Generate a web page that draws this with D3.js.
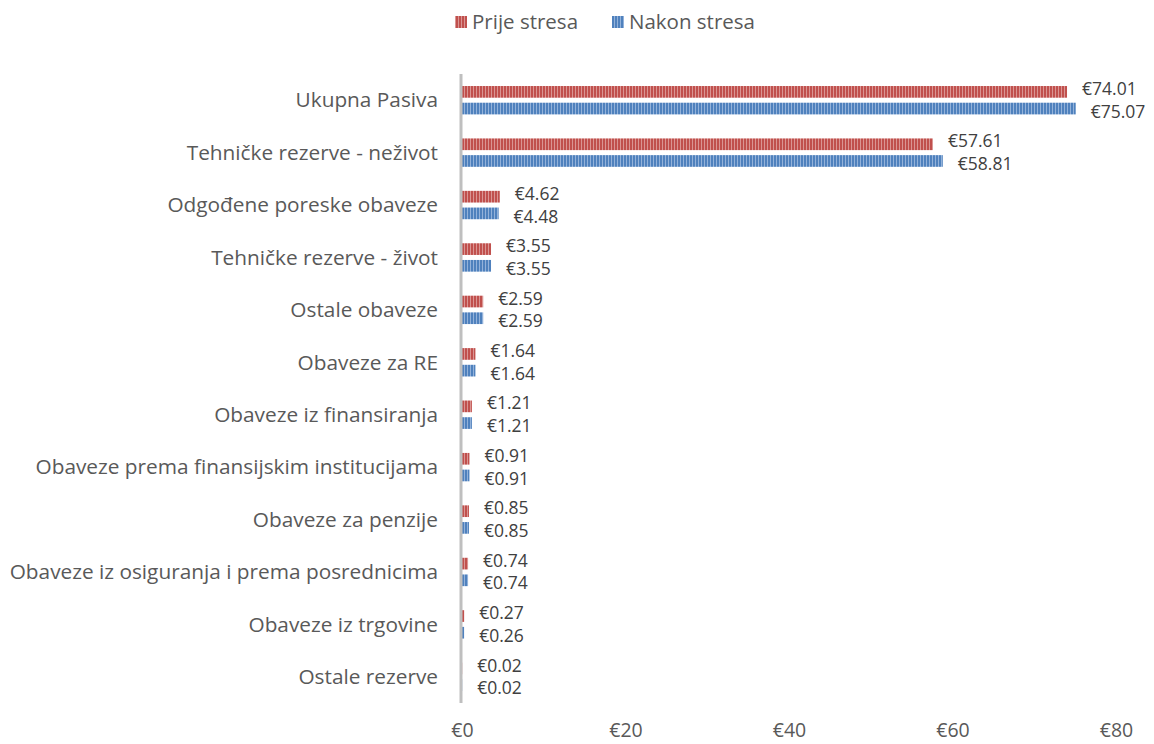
<!DOCTYPE html>
<html><head><meta charset="utf-8">
<script src="https://cdn.jsdelivr.net/npm/d3@7"></script>
<style>body{margin:0;background:#fff;}svg{display:block;font-family:"Open Sans",sans-serif;}</style>
</head><body><svg id="c" width="1154" height="744"></svg>
<script>
const categories = ["Ukupna Pasiva","Tehničke rezerve - neživot","Odgođene poreske obaveze","Tehničke rezerve - život","Ostale obaveze","Obaveze za RE","Obaveze iz finansiranja","Obaveze prema finansijskim institucijama","Obaveze za penzije","Obaveze iz osiguranja i prema posrednicima","Obaveze iz trgovine","Ostale rezerve"];
const prije = [74.01,57.61,4.62,3.55,2.59,1.64,1.21,0.91,0.85,0.74,0.27,0.02];
const nakon = [75.07,58.81,4.48,3.55,2.59,1.64,1.21,0.91,0.85,0.74,0.26,0.02];
const seriesNames = ["Prije stresa","Nakon stresa"];
const ticks = [0,20,40,60,80];
const colors = ["#C0504D","#4F81BD"];
const light = ["#DA9593","#93B2DA"];

const svg = d3.select("#c");
const x = d3.scaleLinear().domain([0,80]).range([462,1116]);
const y = d3.scaleBand().domain(categories).range([74,703]);
const inner = d3.scaleBand().domain([0,1]).range([0,y.bandwidth()]).paddingInner(0.3).paddingOuter(0.72);

const defs = svg.append("defs");
colors.forEach((c,i)=>{
  const p = defs.append("pattern").attr("id","pat"+i).attr("patternUnits","userSpaceOnUse").attr("width",3).attr("height",10);
  p.append("rect").attr("width",3).attr("height",10).attr("fill",light[i]);
  p.append("rect").attr("width",2).attr("height",10).attr("fill",c);
});

const data = [prije,nakon];
const fmt = v => "€" + v.toFixed(2);
data.forEach((arr,si)=>{
  svg.append("g").selectAll("rect").data(arr).join("rect")
    .attr("x",x(0)).attr("y",(d,i)=>y(categories[i])+inner(si))
    .attr("width",d=>x(d)-x(0)).attr("height",inner.bandwidth())
    .attr("fill","url(#pat"+si+")");
  svg.append("g").selectAll("text").data(arr).join("text")
    .attr("x",d=>x(d)+15).attr("y",(d,i)=>y(categories[i])+inner(si)+inner.bandwidth()/2 + (si?3:-3))
    .attr("dy","0.35em").attr("font-size",17.5).attr("fill","#404040").text(fmt);
});

// category labels
svg.append("g").selectAll("text").data(categories).join("text")
  .attr("x",438).attr("y",d=>y(d)+y.bandwidth()/2).attr("dy","0.35em")
  .attr("text-anchor","end").attr("font-size",20.8).attr("fill","#595959").text(d=>d);

// axis line
svg.append("line").attr("x1",461).attr("x2",461).attr("y1",74).attr("y2",703)
  .attr("stroke","#BFBFBF").attr("stroke-width",3);

// x tick labels
const xa = d3.axisBottom(x).tickValues(ticks).tickFormat(d=>"€"+d).tickSize(0).tickPadding(0);
const g = svg.append("g").attr("transform","translate(0,737)").call(xa);
g.select(".domain").remove();
g.selectAll("text").attr("dy",null).attr("font-size",19.5).attr("fill","#595959").attr("font-family","'Open Sans',sans-serif");

// legend
const lg = svg.append("g");
const lx = [455,612];
seriesNames.forEach((n,i)=>{
  lg.append("rect").attr("x",lx[i]).attr("y",16).attr("width",12).attr("height",12).attr("fill","url(#pat"+i+")");
  lg.append("text").attr("x",lx[i]+17).attr("y",22).attr("dy","0.35em").attr("font-size",20.5).attr("fill","#595959").text(n);
});
</script></body></html>
